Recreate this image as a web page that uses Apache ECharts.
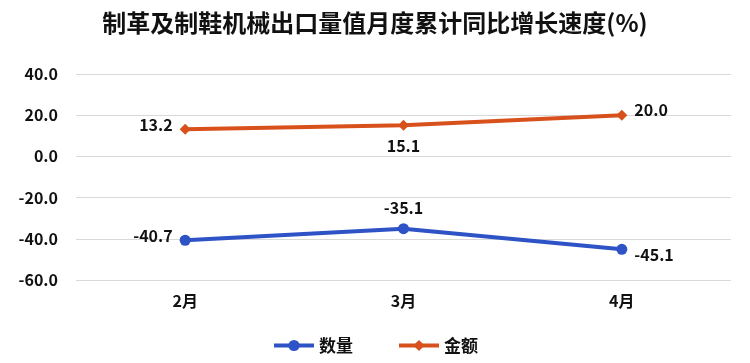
<!DOCTYPE html>
<html><head><meta charset="utf-8">
<script src="https://cdn.jsdelivr.net/npm/echarts@6/dist/echarts.min.js"></script>
<style>html,body{margin:0;padding:0;background:#fff}#c{width:750px;height:363px}</style>
</head><body><div id="c"></div>
<script>
const categories = ['2月', '3月', '4月'];
const quantity = [-40.7, -35.1, -45.1];
const amount = [13.2, 15.1, 20.0];
const quantityLabelPos = ['left', 'top', 'right'];
const amountLabelPos = ['left', 'bottom', 'right'];
const quantityLabelShift = [-4, 0, 6];
const amountLabelShift = [-4, 0, -5];
const font = '"Noto Sans CJK SC", "Noto Sans", sans-serif';
const chart = echarts.init(document.getElementById('c'));
function mk(vals, pos, shift) {
  return vals.map((v, i) => ({ value: v, label: { position: pos[i], offset: [0, shift[i]] } }));
}
chart.setOption({
  animation: false,
  title: { text: '制革及制鞋机械出口量值月度累计同比增长速度(%)', left: 'center', top: 6,
    textStyle: { fontFamily: font, fontSize: 24, fontWeight: 'bold', color: '#111' } },
  grid: { left: 76, right: 19, top: 74, bottom: 83 },
  legend: { bottom: 4, left: 'center', itemGap: 44, itemWidth: 40, itemHeight: 14,
    textStyle: { fontFamily: font, fontSize: 17, fontWeight: 'bold', color: '#111' },
    lineStyle: { width: 4 },
    data: ['数量', '金额'] },
  xAxis: { type: 'category', data: categories,
    axisLine: { show: false }, axisTick: { show: false },
    axisLabel: { fontFamily: font, fontSize: 16, fontWeight: 'bold', color: '#111', margin: 13 } },
  yAxis: { type: 'value', min: -60, max: 40, interval: 20,
    axisLabel: { formatter: v => v.toFixed(1), fontFamily: font, fontSize: 16, fontWeight: 'bold', color: '#111', margin: 18 },
    splitLine: { lineStyle: { color: '#d9d9d9', width: 1 } } },
  series: [
    { name: '数量', type: 'line', data: mk(quantity, quantityLabelPos, quantityLabelShift), symbol: 'circle', symbolSize: 11,
      lineStyle: { color: '#2D53C6', width: 4 }, itemStyle: { color: '#2D53C6' },
      label: { show: true, formatter: p => p.value.toFixed(1), fontFamily: font, fontSize: 16, fontWeight: 'bold', color: '#111', distance: 7 } },
    { name: '金额', type: 'line', data: mk(amount, amountLabelPos, amountLabelShift), symbol: 'diamond', symbolSize: 11,
      lineStyle: { color: '#D8511C', width: 4 }, itemStyle: { color: '#D8511C' },
      label: { show: true, formatter: p => p.value.toFixed(1), fontFamily: font, fontSize: 16, fontWeight: 'bold', color: '#111', distance: 7 } }
  ]
});
</script></body></html>
